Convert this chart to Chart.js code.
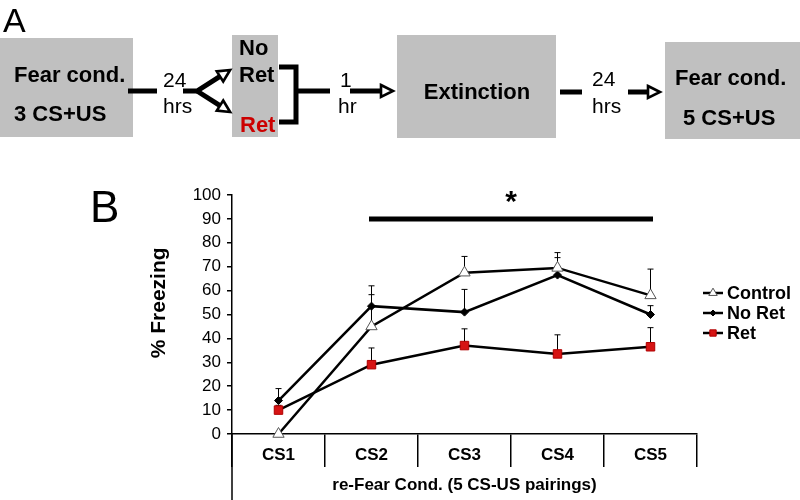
<!DOCTYPE html>
<html>
<head>
<meta charset="utf-8">
<script src="https://cdn.jsdelivr.net/npm/chart.js@4/dist/chart.umd.min.js"></script>
<style>
html,body{margin:0;padding:0;background:#fff;}
#wrap{position:relative;width:800px;height:500px;overflow:hidden;background:#fff;}
#c{position:absolute;left:0;top:0;}
#dia{position:absolute;left:0;top:0;pointer-events:none;font-family:"Liberation Sans",Arial,Helvetica,sans-serif;}
</style>
</head>
<body>
<div id="wrap">
<canvas id="c" width="800" height="500"></canvas>
<svg id="dia" width="800" height="500" xmlns="http://www.w3.org/2000/svg">
  <defs>
    <marker id="ah" markerUnits="userSpaceOnUse" markerWidth="18" markerHeight="18" refX="2" refY="8" orient="auto" overflow="visible">
      <path d="M2,2 L14,8 L2,14 Z" fill="#fff" stroke="#000" stroke-width="2.6" stroke-linejoin="miter"/>
    </marker>
  </defs>
  <text x="3" y="32" font-size="34">A</text>
  <text x="90" y="222" font-size="44">B</text>

  <rect x="0" y="38" width="133" height="99" fill="#c0c0c0"/>
  <rect x="232" y="35" width="46" height="102" fill="#c0c0c0"/>
  <rect x="397" y="35" width="159" height="103" fill="#c0c0c0"/>
  <rect x="665" y="42" width="135" height="97" fill="#c0c0c0"/>

  <g font-weight="bold" font-size="22" fill="#000">
    <text x="14" y="82">Fear cond.</text>
    <text x="14" y="121">3 CS+US</text>
    <text x="239" y="55">No</text>
    <text x="239" y="82">Ret</text>
    <text x="240" y="132" fill="#cc0000">Ret</text>
    <text x="477" y="99" text-anchor="middle">Extinction</text>
    <text x="675" y="85">Fear cond.</text>
    <text x="683" y="125">5 CS+US</text>
  </g>
  <g font-size="21" fill="#000">
    <text x="163" y="87">24</text>
    <text x="163" y="113">hrs</text>
    <text x="340" y="87">1</text>
    <text x="338" y="113">hr</text>
    <text x="592" y="86">24</text>
    <text x="592" y="113">hrs</text>
  </g>
  <g stroke="#000" stroke-width="5" fill="none">
    <path d="M128,91 L157,91"/>
    <path d="M183,91 L197,91 L220,76.4" marker-end="url(#ah)" stroke-linejoin="miter"/>
    <path d="M197,91 L220,105.6" marker-end="url(#ah)"/>
    <path d="M279,67 L296,67 L296,122 L279,122"/>
    <path d="M296,91 L330,91"/>
    <path d="M350,91 L381,91" marker-end="url(#ah)"/>
    <path d="M560,92 L582,92"/>
    <path d="M628,92 L648,92" marker-end="url(#ah)"/>
  </g>
</svg>
</div>
<script>
// ---- data ----
const categories = ['CS1', 'CS2', 'CS3', 'CS4', 'CS5'];
const seriesNames = ['Control', 'No Ret', 'Ret'];
const controlMean = [0, 45, 67.5, 69.5, 58];
const controlErr  = [0, 13.3, 6.8, 6.4, 11];
const noRetMean   = [14, 53.5, 51, 66.5, 50];
const noRetErr    = [5, 8.5, 9.5, 7.3, 3.7];
const retMean     = [10, 29, 37, 33.5, 36.5];
const retErr      = [2, 7, 7, 8, 8];
const sigBar      = [null, 90, 90, 90, 90];
const yMin = 0, yMax = 100, yStep = 10;
const yTitle = '% Freezing';
const xTitle = 're-Fear Cond. (5 CS-US pairings)';
const sigMark = '*';

const FONT = "'Liberation Sans', Arial, Helvetica, sans-serif";
Chart.defaults.font.family = FONT;
Chart.defaults.color = '#000';

const errs = [controlErr, noRetErr, retErr];

const errorBars = {
  id: 'errorBars',
  beforeDatasetsDraw(chart) {
    const ctx = chart.ctx, ys = chart.scales.y;
    ctx.save();
    ctx.strokeStyle = '#000';
    ctx.lineWidth = 1;
    errs.forEach((e, i) => {
      const meta = chart.getDatasetMeta(i);
      const vals = chart.data.datasets[i].data;
      meta.data.forEach((pt, j) => {
        if (!e[j]) return;
        const yt = ys.getPixelForValue(vals[j] + e[j]);
        ctx.beginPath();
        ctx.moveTo(pt.x, pt.y);
        ctx.lineTo(pt.x, yt);
        ctx.moveTo(pt.x - 3, yt);
        ctx.lineTo(pt.x + 3, yt);
        ctx.stroke();
      });
    });
    ctx.restore();
  }
};

function marker(ctx, style, x, y, r, fill, stroke, bw) {
  ctx.beginPath();
  if (style === 'triangle') {
    for (let k = 0; k < 3; k++) {
      const a = k * 2 * Math.PI / 3;
      const px = x + Math.sin(a) * r, py = y - Math.cos(a) * r;
      k ? ctx.lineTo(px, py) : ctx.moveTo(px, py);
    }
    ctx.closePath();
  } else if (style === 'rectRot') {
    ctx.moveTo(x, y - r); ctx.lineTo(x + r, y); ctx.lineTo(x, y + r); ctx.lineTo(x - r, y); ctx.closePath();
  } else {
    const s = r * Math.SQRT1_2;
    ctx.rect(x - s, y - s, 2 * s, 2 * s);
  }
  ctx.fillStyle = fill; ctx.fill();
  ctx.lineWidth = bw; ctx.strokeStyle = stroke; ctx.stroke();
}

const extras = {
  id: 'extras',
  afterDraw(chart) {
    const ctx = chart.ctx, ca = chart.chartArea;
    const xs = chart.scales.x, ys = chart.scales.y;
    ctx.save();
    // y axis continues down through the category table
    ctx.strokeStyle = '#000';
    ctx.lineWidth = 1.5;
    ctx.beginPath();
    ctx.moveTo(ca.left, ca.bottom);
    ctx.lineTo(ca.left, chart.height);
    ctx.stroke();
    // significance star
    ctx.fillStyle = '#000';
    ctx.font = 'bold 30px ' + FONT;
    ctx.textAlign = 'center';
    ctx.textBaseline = 'alphabetic';
    const sx = (xs.getPixelForValue(2) + xs.getPixelForValue(3)) / 2;
    ctx.fillText(sigMark, sx, ys.getPixelForValue(90) - 8);
    // legend
    const lx = ca.right + 6;
    const rows = [293, 313, 333];
    ctx.font = 'bold 18px ' + FONT;
    ctx.textAlign = 'left';
    ctx.textBaseline = 'middle';
    seriesNames.forEach((name, i) => {
      const ds = chart.data.datasets[i];
      const y = rows[i];
      ctx.strokeStyle = '#000';
      ctx.lineWidth = 2.5;
      ctx.beginPath();
      ctx.moveTo(lx, y); ctx.lineTo(lx + 20, y); ctx.stroke();
      marker(ctx, ds.pointStyle, lx + 10, y, ds.pointRadius * 0.75, ds.pointBackgroundColor, ds.pointBorderColor, ds.pointBorderWidth);
      ctx.fillStyle = '#000';
      ctx.fillText(name, lx + 24, y + 1);
    });
    ctx.restore();
  }
};

new Chart(document.getElementById('c'), {
  type: 'line',
  data: {
    labels: categories,
    datasets: [
      { label: seriesNames[0], data: controlMean, borderColor: '#000', borderWidth: 2.5,
        pointStyle: 'triangle', pointRadius: 6.5, pointBackgroundColor: '#fff',
        pointBorderColor: '#555', pointBorderWidth: 1, tension: 0, clip: false },
      { label: seriesNames[1], data: noRetMean, borderColor: '#000', borderWidth: 2.5,
        pointStyle: 'rectRot', pointRadius: 4, pointBackgroundColor: '#000',
        pointBorderColor: '#000', pointBorderWidth: 1, tension: 0, clip: false },
      { label: seriesNames[2], data: retMean, borderColor: '#000', borderWidth: 2.5,
        pointStyle: 'rect', pointRadius: 6, pointBackgroundColor: '#d61414',
        pointBorderColor: '#b00000', pointBorderWidth: 1, tension: 0, clip: false },
      { label: 'sig', data: sigBar, borderColor: '#000', borderWidth: 5, pointRadius: 0,
        borderCapStyle: 'square', spanGaps: false, clip: false }
    ]
  },
  options: {
    responsive: false,
    animation: false,
    devicePixelRatio: 1,
    layout: { padding: { left: 147, right: 103, top: 195, bottom: 0 } },
    plugins: { legend: { display: false }, tooltip: { enabled: false } },
    scales: {
      x: {
        type: 'category',
        offset: true,
        grid: { display: true, offset: true, drawOnChartArea: false, drawTicks: true,
                tickLength: 33, color: '#000', lineWidth: 1.5 },
        border: { display: true, color: '#000', width: 1.5 },
        ticks: { color: '#000', font: { size: 17, weight: 'bold' }, padding: -22,
                 maxRotation: 0, autoSkip: false },
        title: { display: true, text: xTitle, color: '#000',
                 font: { size: 17, weight: 'bold' }, padding: { top: 0, bottom: 4 } },
        afterFit(s) { s.height = 66; }
      },
      y: {
        min: yMin, max: yMax,
        ticks: { stepSize: yStep, color: '#000', font: { size: 17 }, padding: 6 },
        grid: { display: true, drawOnChartArea: false, drawTicks: true, tickLength: 5,
                color: '#000', lineWidth: 1.5 },
        border: { display: true, color: '#000', width: 1.5 },
        title: { display: true, text: '\u00a0\u00a0\u00a0\u00a0' + yTitle, color: '#000',
                 font: { size: 21, weight: 'bold' }, padding: 0 },
        afterFit(s) { s.width = 85; }
      }
    }
  },
  plugins: [errorBars, extras]
});
</script>
</body>
</html>
